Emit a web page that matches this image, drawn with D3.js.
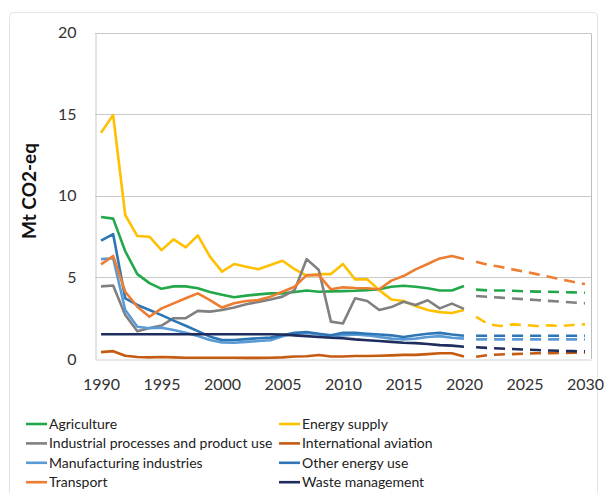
<!DOCTYPE html>
<html>
<head>
<meta charset="utf-8">
<script src="https://cdn.jsdelivr.net/npm/d3@7/dist/d3.min.js"></script>
<style>
  html, body { margin: 0; padding: 0; background: #fff; }
  svg { display: block; font-family: Lato, "Open Sans", sans-serif; }
</style>
</head>
<body>
<svg id="chart" width="607" height="493"></svg>
<script>
// ---- Data ----
const histYears = [1990,1991,1992,1993,1994,1995,1996,1997,1998,1999,2000,2001,2002,2003,2004,2005,2006,2007,2008,2009,2010,2011,2012,2013,2014,2015,2016,2017,2018,2019,2020];
const projYears = [2021,2022,2023,2024,2025,2026,2027,2028,2029,2030];
const xTickLabels = [1990,1995,2000,2005,2010,2015,2020,2025,2030];
const yTickLabels = [0,5,10,15,20];

const seriesNames = ["Agriculture","Energy supply","Industrial processes and product use","International aviation","Manufacturing industries","Other energy use","Transport","Waste management"];
const seriesColors = ["#22A84A","#FFC000","#808080","#C55A11","#5B9BD5","#2E75B6","#ED7D31","#1F2D5E"];

const agricultureHist = [8.7,8.6,6.6,5.2,4.65,4.3,4.45,4.45,4.33,4.1,3.93,3.78,3.88,3.96,4.02,4.02,4.1,4.2,4.12,4.14,4.16,4.18,4.22,4.27,4.43,4.49,4.43,4.33,4.2,4.2,4.47];
const agricultureProj = [4.25,4.2,4.2,4.18,4.15,4.13,4.12,4.1,4.08,4.06];

const energySupplyHist = [13.86,14.94,8.82,7.53,7.49,6.67,7.33,6.84,7.57,6.27,5.35,5.82,5.65,5.5,5.76,6.02,5.5,5.1,5.2,5.2,5.82,4.88,4.88,4.22,3.65,3.55,3.25,3.0,2.87,2.82,3.0];
const energySupplyProj = [2.58,2.14,2.02,2.12,2.08,2.02,2.06,2.02,2.08,2.12];

const industrialHist = [4.45,4.5,2.7,1.7,1.9,2.05,2.5,2.5,2.95,2.9,3.0,3.15,3.35,3.5,3.65,3.82,4.22,6.12,5.45,2.29,2.18,3.72,3.55,3.0,3.18,3.51,3.31,3.6,3.1,3.39,3.07];
const industrialProj = [3.86,3.81,3.76,3.71,3.66,3.61,3.56,3.51,3.46,3.41];

const aviationHist = [0.42,0.48,0.2,0.12,0.1,0.12,0.1,0.08,0.08,0.08,0.08,0.08,0.07,0.07,0.08,0.1,0.15,0.17,0.25,0.15,0.15,0.18,0.18,0.2,0.22,0.25,0.25,0.3,0.35,0.35,0.15];
const aviationProj = [0.14,0.24,0.28,0.3,0.33,0.35,0.36,0.37,0.38,0.38];

const manufacturingHist = [6.12,6.17,3.0,1.98,1.88,1.92,1.78,1.61,1.41,1.16,1.02,1.0,1.05,1.1,1.15,1.4,1.55,1.6,1.5,1.35,1.45,1.5,1.45,1.35,1.25,1.2,1.25,1.35,1.4,1.3,1.25];
const manufacturingProj = [1.2,1.2,1.2,1.2,1.2,1.2,1.2,1.2,1.2,1.2];

const otherEnergyHist = [7.25,7.65,3.72,3.31,3.0,2.69,2.35,2.04,1.71,1.37,1.16,1.16,1.22,1.27,1.31,1.45,1.6,1.65,1.55,1.45,1.6,1.6,1.55,1.5,1.45,1.35,1.45,1.55,1.6,1.5,1.42];
const otherEnergyProj = [1.42,1.42,1.42,1.42,1.42,1.42,1.42,1.42,1.42,1.42];

const transportHist = [5.8,6.31,4.12,3.2,2.59,3.1,3.41,3.72,4.02,3.61,3.15,3.41,3.55,3.61,3.82,4.12,4.43,5.14,5.14,4.27,4.39,4.35,4.33,4.27,4.8,5.08,5.49,5.82,6.16,6.31,6.12];
const transportProj = [5.96,5.76,5.65,5.49,5.35,5.2,5.04,4.88,4.73,4.59];

const wasteHist = [1.52,1.52,1.52,1.52,1.52,1.52,1.52,1.52,1.52,1.52,1.52,1.52,1.52,1.52,1.52,1.5,1.45,1.4,1.35,1.3,1.27,1.2,1.15,1.1,1.05,1.0,0.97,0.92,0.85,0.82,0.75];
const wasteProj = [0.72,0.68,0.64,0.61,0.58,0.55,0.52,0.5,0.48,0.47];

const histValues = [agricultureHist,energySupplyHist,industrialHist,aviationHist,manufacturingHist,otherEnergyHist,transportHist,wasteHist];
const projValues = [agricultureProj,energySupplyProj,industrialProj,aviationProj,manufacturingProj,otherEnergyProj,transportProj,wasteProj];

// ---- Layout ----
const svg = d3.select("#chart");
const plot = {left: 95, right: 591, top: 32.5, bottom: 359};

// outer chart border
svg.append("rect").attr("x", 9.5).attr("y", 12.5).attr("width", 588).attr("height", 500)
  .attr("rx", 4).attr("fill", "none").attr("stroke", "#e4e4e4").attr("stroke-width", 1);

const x = d3.scaleLinear().domain([1989.5, 2030.5]).range([plot.left, plot.right]);
const y = d3.scaleLinear().domain([0, 20]).range([plot.bottom, plot.top]);

// gridlines
svg.append("g").selectAll("line").data(yTickLabels.filter(d => d > 0)).join("line")
  .attr("x1", plot.left).attr("x2", plot.right)
  .attr("y1", d => Math.round(y(d)) + 0.5).attr("y2", d => Math.round(y(d)) + 0.5)
  .attr("stroke", "#c8c8c8").attr("stroke-width", 1);

// plot border (right)
svg.append("line").attr("x1", plot.right + 0.5).attr("x2", plot.right + 0.5)
  .attr("y1", Math.round(y(20)) + 0.5).attr("y2", plot.bottom)
  .attr("stroke", "#bdbdbd");

// axes
const yAxis = d3.axisLeft(y).tickValues(yTickLabels).tickSize(0).tickPadding(19);
const gy = svg.append("g").attr("transform", `translate(${plot.left + 0.5},0)`).call(yAxis);
gy.select(".domain").attr("stroke", "#c8c8c8");
gy.selectAll("text").attr("font-size", 16).attr("fill", "#333").attr("font-family", "Lato, sans-serif");

const xAxis = d3.axisBottom(x).tickValues(xTickLabels).tickSize(0).tickPadding(19).tickFormat(d3.format("d"));
const gx = svg.append("g").attr("transform", `translate(0,${plot.bottom + 0.5})`).call(xAxis);
gx.select(".domain").attr("stroke", "#d0d0d0");
gx.selectAll("text").attr("font-size", 16).attr("fill", "#333").attr("font-family", "Lato, sans-serif");

// y title
svg.append("text").attr("transform", "translate(36,191) rotate(-90)")
  .attr("text-anchor", "middle").attr("font-size", 19).attr("font-weight", "bold")
  .attr("fill", "#111").text("Mt CO2-eq");

// lines
const line = d3.line().x(d => x(d[0])).y(d => y(d[1]));
const gLines = svg.append("g").attr("fill", "none").attr("stroke-linejoin", "round");
seriesNames.forEach((name, i) => {
  const hist = histYears.map((yr, k) => [yr, histValues[i][k]]);
  const proj = projYears.map((yr, k) => [yr, projValues[i][k]]);
  gLines.append("path").attr("d", line(hist)).attr("stroke", seriesColors[i]).attr("stroke-width", 2.6);
  gLines.append("path").attr("d", line(proj)).attr("stroke", seriesColors[i]).attr("stroke-width", 2.6)
    .attr("stroke-dasharray", "11,7");
});

// legend
const legend = svg.append("g");
seriesNames.forEach((name, i) => {
  const col = i % 2, row = Math.floor(i / 2);
  const lx = col === 0 ? 26 : 279;
  const ly = 424 + row * 19.4;
  legend.append("line").attr("x1", lx).attr("x2", lx + 21).attr("y1", ly).attr("y2", ly)
    .attr("stroke", seriesColors[i]).attr("stroke-width", 2.6);
  legend.append("text").attr("x", lx + 23).attr("y", ly).attr("dy", "0.35em")
    .attr("font-size", 14).attr("fill", "#222").text(name);
});
</script>
</body>
</html>
